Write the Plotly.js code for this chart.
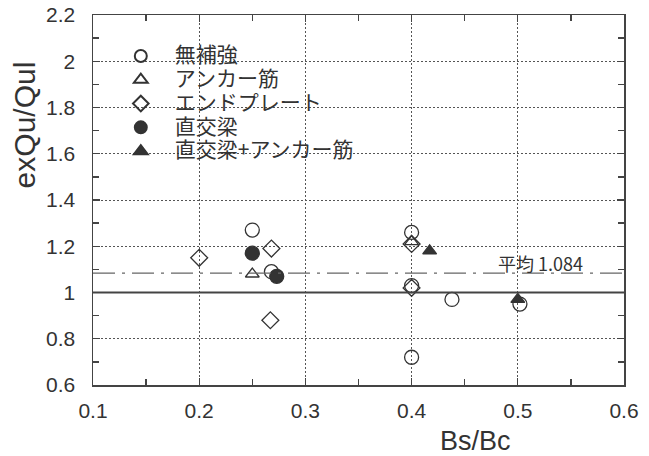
<!DOCTYPE html>
<html>
<head>
<meta charset="utf-8">
<script src="https://cdn.plot.ly/plotly-3.0.1.min.js"></script>
<style>html,body{margin:0;padding:0;background:#fff;}#chart{width:649px;height:456px;}</style>
</head>
<body>
<div id="chart"></div>
<script>
// ---- data ----
const seriesNames = ['無補強', 'アンカー筋', 'エンドプレート', '直交梁', '直交梁+アンカー筋'];

const plainX = [0.25, 0.268, 0.40, 0.40, 0.40, 0.438, 0.502];
const plainY = [1.27, 1.09, 1.26, 1.03, 0.72, 0.97, 0.95];

const anchorX = [0.25, 0.40];
const anchorY = [1.08, 1.22];

const endPlateX = [0.20, 0.268, 0.267, 0.40, 0.40];
const endPlateY = [1.15, 1.19, 0.88, 1.21, 1.02];

const crossBeamX = [0.25, 0.273];
const crossBeamY = [1.17, 1.07];

const crossAnchorX = [0.417, 0.50];
const crossAnchorY = [1.18, 0.97];

const meanValue = 1.084;
const unityValue = 1.0;
const meanLabel = '平均';

// axis ranges and tick steps (labels: 0.1 … 0.6 and 0.6, 0.8, 1, … 2.2)
const xRange = [0.1, 0.6];
const xTickStep = 0.1;
const xMinorStep = 0.05;
const yRange = [0.6, 2.2];
const yTickStep = 0.2;
const yMinorStep = 0.1;

const xTitle = 'Bs/Bc';
const yTitle = 'exQu/Qul';

// ---- styling ----
const ink = '#333333';
const sans = 'Liberation Sans, Arial, sans-serif';
const cjk = 'Noto Sans CJK JP, sans-serif';

function legendName(s) {
  return '<span style="font-size:21px">' + s + '</span>';
}

const specs = [
  {x: plainX, y: plainY, symbol: 'circle-open', size: 14},
  {x: anchorX, y: anchorY, symbol: 'triangle-up-open', size: 12},
  {x: endPlateX, y: endPlateY, symbol: 'diamond-open', size: 13},
  {x: crossBeamX, y: crossBeamY, symbol: 'circle', size: 14},
  {x: crossAnchorX, y: crossAnchorY, symbol: 'triangle-up', size: 12}
];

const traces = specs.map((s, i) => ({
  type: 'scatter',
  mode: 'markers',
  name: legendName(seriesNames[i]),
  x: s.x,
  y: s.y,
  marker: {
    symbol: s.symbol,
    size: s.size,
    color: ink,
    line: {color: ink, width: 1.3}
  },
  hoverinfo: 'x+y'
}));

const axisCommon = {
  showline: true,
  linecolor: '#444',
  linewidth: 1.5,
  mirror: 'allticks',
  ticks: 'inside',
  ticklen: 7,
  tickwidth: 1.3,
  tickcolor: '#444',
  showgrid: true,
  gridcolor: '#555',
  gridwidth: 1,
  griddash: '2px,2px',
  zeroline: false,
  tickfont: {family: sans, size: 21, color: ink}
};

const layout = {
  width: 649,
  height: 456,
  margin: {l: 93, r: 25, t: 15, b: 71},
  paper_bgcolor: '#ffffff',
  plot_bgcolor: '#ffffff',
  showlegend: true,
  legend: {
    x: 0.026,
    y: 0.935,
    xanchor: 'left',
    yanchor: 'top',
    bgcolor: 'rgba(0,0,0,0)',
    borderwidth: 0,
    itemwidth: 58,
    itemsizing: 'constant',
    font: {family: cjk, size: 16, color: ink}
  },
  xaxis: Object.assign({}, axisCommon, {
    range: xRange,
    tickmode: 'linear',
    tick0: xRange[0],
    dtick: xTickStep,
    ticklabelstandoff: 6,
    minor: {tickmode: 'linear', tick0: xRange[0], dtick: xMinorStep, ticks: 'inside', ticklen: 6,
            tickwidth: 1.3, tickcolor: '#444', showgrid: false}
  }),
  yaxis: Object.assign({}, axisCommon, {
    range: yRange,
    tickmode: 'linear',
    tick0: yRange[0],
    dtick: yTickStep,
    ticklabelstandoff: 12,
    minor: {tickmode: 'linear', tick0: yRange[0], dtick: yMinorStep, ticks: 'inside', ticklen: 6,
            tickwidth: 1.3, tickcolor: '#444', showgrid: false}
  }),
  shapes: [
    {type: 'line', xref: 'paper', yref: 'y', x0: 0, x1: 1, y0: unityValue, y1: unityValue,
     line: {color: '#444', width: 2}},
    {type: 'line', xref: 'paper', yref: 'y', x0: 0, x1: 1, y0: meanValue, y1: meanValue,
     line: {color: '#666', width: 1.3, dash: '22px,7px,3px,7px'}}
  ],
  annotations: [
    {xref: 'x', yref: 'y', x: 0.521, y: meanValue, xanchor: 'center', yanchor: 'bottom',
     yshift: -5, showarrow: false, text: meanLabel + ' ' + meanValue.toFixed(3),
     font: {family: cjk, size: 18, color: ink}},
    {xref: 'paper', yref: 'paper', x: 0.7196, y: -0.151, xanchor: 'center', yanchor: 'middle',
     showarrow: false, text: xTitle, font: {family: sans, size: 27, color: ink}},
    {xref: 'paper', yref: 'paper', x: -0.129, y: 0.703, xanchor: 'center', yanchor: 'middle',
     showarrow: false, textangle: -90, text: yTitle, font: {family: sans, size: 30, color: ink}}
  ]
};

Plotly.newPlot('chart', traces, layout, {staticPlot: true, displayModeBar: false});
</script>
</body>
</html>
